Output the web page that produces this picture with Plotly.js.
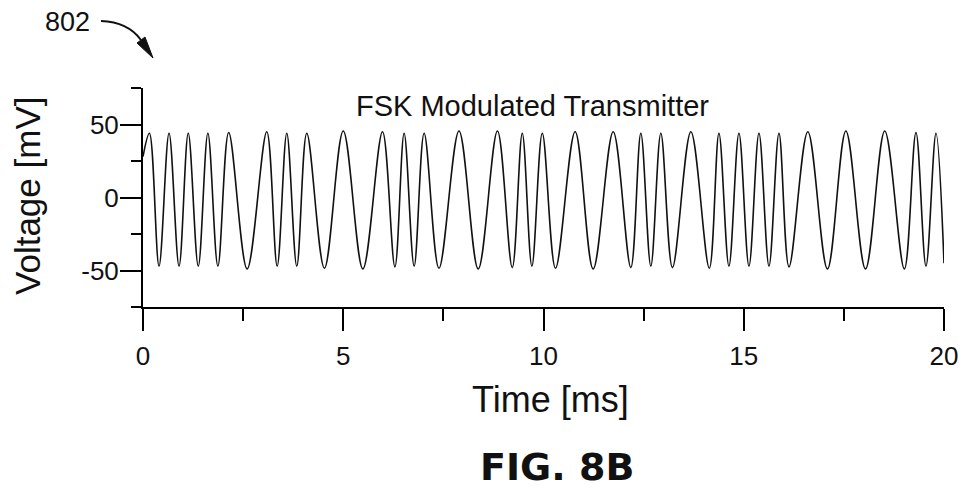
<!DOCTYPE html>
<html>
<head>
<meta charset="utf-8">
<script src="https://cdn.plot.ly/plotly-3.0.1.min.js"></script>
<style>html,body{margin:0;padding:0;background:#fff;}#chart{width:964px;height:489px;}</style>
</head>
<body>
<div id="chart"></div>
<script>
// Extrema of the FSK waveform (time in ms, voltage in mV)
var timeMs = [0, 0.16, 0.40, 0.65, 0.90, 1.13, 1.38, 1.62, 1.87, 2.14, 2.60, 3.09, 3.35, 3.59, 3.84, 4.09, 4.53,
  5.00, 5.49, 5.98, 6.29, 6.52, 6.77, 7.02, 7.39, 7.89, 8.37, 8.85, 9.22, 9.47, 9.71, 9.97, 10.30,
  10.79, 11.24, 11.74, 12.18, 12.43, 12.68, 12.93, 13.22, 13.68, 14.14, 14.38, 14.63, 14.88, 15.13,
  15.38, 15.63, 15.88, 16.13, 16.60, 17.09, 17.55, 18.04, 18.52, 19.01, 19.30, 19.55, 19.80, 20.00];
var voltageMv = [28, 44, -47, 44, -47, 44, -47, 44, -47, 44.5, -49, 45, -47, 44, -47, 44, -48.5,
  45.5, -49, 45, -47.5, 44, -47, 44, -48.5, 45.5, -49, 45.5, -48, 44, -47, 44, -48.5,
  45, -49, 45, -48, 44, -47, 44, -48, 45, -48.5, 44, -47, 44, -47,
  44, -47, 44, -47.5, 45, -49, 45.5, -49, 45.5, -49, 44.5, -47, 44, -45];
var xTickVals = [0, 5, 10, 15, 20];
var xTickText = ['0', '5', '10', '15', '20'];
var yTickVals = [-50, 0, 50];
var yTickText = ['-50', '0', '50'];

var PL = 143, PR = 944, PT = 88, PB = 307;
function px(x) { return (x - PL) / (PR - PL); }
function py(y) { return (PB - y) / (PB - PT); }

var trace = {
  x: timeMs, y: voltageMv, type: 'scatter', mode: 'lines',
  line: {color: '#111', width: 1.6, shape: 'spline', smoothing: 1},
  hoverinfo: 'skip'
};

var fontFam = '"Liberation Sans", Arial, sans-serif';
var axisCommon = {
  showline: true, linecolor: '#000', linewidth: 2, mirror: false,
  showgrid: false, zeroline: false, ticks: 'outside', tickcolor: '#000', tickwidth: 2,
  tickfont: {family: fontFam, size: 26, color: '#111'}, fixedrange: true
};

var layout = {
  width: 964, height: 489,
  margin: {l: PL, r: 964 - PR, t: PT, b: 489 - PB},
  paper_bgcolor: '#fff', plot_bgcolor: '#fff',
  showlegend: false,
  xaxis: Object.assign({}, axisCommon, {
    range: [0, 20], tickmode: 'array', tickvals: xTickVals, ticktext: xTickText, ticklen: 22,
    ticklabelstandoff: 3,
    minor: {dtick: 2.5, tick0: 0, ticklen: 12, tickwidth: 2, tickcolor: '#000', ticks: 'outside'}
  }),
  yaxis: Object.assign({}, axisCommon, {
    range: [-75, 75], tickmode: 'array', tickvals: yTickVals, ticktext: yTickText, ticklen: 21,
    ticklabelstandoff: -4,
    minor: {dtick: 25, tick0: 0, ticklen: 10, tickwidth: 2, tickcolor: '#000', ticks: 'outside'}
  }),
  annotations: [
    {text: 'FSK Modulated Transmitter', xref: 'paper', yref: 'paper', x: px(532), y: py(106),
     xanchor: 'center', yanchor: 'middle', showarrow: false, font: {family: fontFam, size: 29, color: '#111'}},
    {text: 'Time [ms]', xref: 'paper', yref: 'paper', x: px(550), y: py(399),
     xanchor: 'center', yanchor: 'middle', showarrow: false, font: {family: fontFam, size: 36, color: '#111'}},
    {text: 'Voltage [mV]', xref: 'paper', yref: 'paper', x: px(27), y: py(196), textangle: -90,
     xanchor: 'center', yanchor: 'middle', showarrow: false, font: {family: fontFam, size: 35, color: '#111'}},
    {text: '<b>FIG. 8B</b>', xref: 'paper', yref: 'paper', x: px(557), y: py(467),
     xanchor: 'center', yanchor: 'middle', showarrow: false, font: {family: '"DejaVu Sans", sans-serif', size: 38, color: '#111'}},
    {text: '802', xref: 'paper', yref: 'paper', x: px(67), y: py(22),
     xanchor: 'center', yanchor: 'middle', showarrow: false, font: {family: fontFam, size: 27, color: '#111'}}
  ],
  shapes: [
    {type: 'path', xref: 'paper', yref: 'paper', layer: 'above',
     path: 'M' + px(101) + ',' + py(21) + ' Q' + px(128) + ',' + py(22) + ' ' + px(141) + ',' + py(40),
     line: {color: '#111', width: 2}},
    {type: 'path', xref: 'paper', yref: 'paper', layer: 'above',
     path: 'M' + px(153) + ',' + py(58) + ' L' + px(137) + ',' + py(43) + ' L' + px(145) + ',' + py(37) + ' Z',
     fillcolor: '#111', line: {color: '#111', width: 1}}
  ]
};

Plotly.newPlot('chart', [trace], layout, {displayModeBar: false, staticPlot: true});
</script>
</body>
</html>
